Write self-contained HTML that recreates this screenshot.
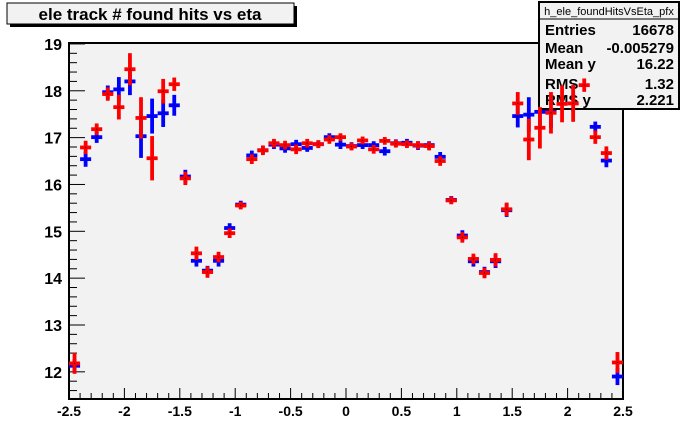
<!DOCTYPE html>
<html><head><meta charset="utf-8"><style>
body{margin:0;background:#fff}
svg{display:block;font-family:"Liberation Sans",Arial,sans-serif}
</style></head><body>
<svg id="chart" width="692" height="444" viewBox="0 0 692 444">
<rect x="0" y="0" width="692" height="444" fill="#fff"/>
<rect x="69" y="43" width="554" height="356" fill="#f2f2f2" stroke="#000" stroke-width="2"/>
<g id="axes"></g>
<g id="blue"></g>
<g>
<rect x="10" y="6" width="287" height="21" fill="#000"/>
<rect x="7" y="3" width="287" height="21" fill="#f2f2f2" stroke="#000" stroke-width="1"/>
<text x="150" y="20" text-anchor="middle" font-size="17" font-weight="bold">ele track # found hits vs eta</text>
</g>
<g>
<rect x="539" y="2" width="140" height="107" fill="#f2f2f2" stroke="#000" stroke-width="2"/>
<line x1="539" y1="19" x2="679" y2="19" stroke="#000" stroke-width="1"/>
<text x="609" y="15" text-anchor="middle" font-size="11">h_ele_foundHitsVsEta_pfx</text>
<g font-size="15" font-weight="bold">
<text x="545" y="35">Entries</text><text x="674" y="35" text-anchor="end">16678</text>
<text x="545" y="53">Mean</text><text x="674" y="53" text-anchor="end">-0.005279</text>
<text x="545" y="69">Mean y</text><text x="674" y="69" text-anchor="end">16.22</text>
<text x="545" y="89">RMS</text><text x="674" y="89" text-anchor="end">1.32</text>
<text x="545" y="105">RMS y</text><text x="674" y="105" text-anchor="end">2.221</text>
</g>
</g>
<g id="red"></g>
</svg>
<script>
const etaCenters=[-2.45,-2.35,-2.25,-2.15,-2.05,-1.95,-1.85,-1.75,-1.65,-1.55,-1.45,-1.35,-1.25,-1.15,-1.05,-0.95,-0.85,-0.75,-0.65,-0.55,-0.45,-0.35,-0.25,-0.15,-0.05,0.05,0.15,0.25,0.35,0.45,0.55,0.65,0.75,0.85,0.95,1.05,1.15,1.25,1.35,1.45,1.55,1.65,1.75,1.85,1.95,2.05,2.15,2.25,2.35,2.45];
const blueValues=[12.13,16.54,17.01,17.97,18.03,18.20,17.03,17.46,17.52,17.69,16.17,14.37,14.16,14.37,15.07,15.57,16.62,16.73,16.85,16.77,16.86,16.78,16.86,17.01,16.85,16.82,16.84,16.84,16.71,16.88,16.89,16.83,16.84,16.59,15.67,14.91,14.36,14.13,14.36,15.45,17.46,17.49,17.55,17.55,17.95,17.9,18.0,17.23,16.51,11.90];
const blueErrors=[0.1,0.12,0.08,0.1,0.22,0.25,0.42,0.33,0.25,0.18,0.1,0.08,0.06,0.08,0.06,0.04,0.06,0.04,0.05,0.05,0.05,0.04,0.04,0.04,0.05,0.04,0.04,0.04,0.05,0.04,0.04,0.05,0.04,0.06,0.04,0.07,0.07,0.07,0.1,0.1,0.2,0.33,0.3,0.3,0.3,0.3,0.3,0.07,0.1,0.14];
const redValues=[12.18,16.79,17.18,17.93,17.65,18.46,17.42,16.56,17.99,18.14,16.13,14.53,14.13,14.45,14.96,15.55,16.54,16.73,16.88,16.84,16.75,16.88,16.86,16.96,17.01,16.81,16.94,16.75,16.93,16.87,16.86,16.84,16.82,16.50,15.66,14.87,14.41,14.11,14.39,15.47,17.73,16.96,17.21,17.53,17.72,17.73,18.12,17.01,16.67,12.20];
const redErrors=[0.18,0.1,0.08,0.1,0.22,0.3,0.4,0.43,0.22,0.1,0.1,0.1,0.08,0.07,0.06,0.04,0.06,0.06,0.05,0.05,0.06,0.05,0.04,0.05,0.04,0.04,0.04,0.05,0.04,0.04,0.04,0.04,0.05,0.06,0.04,0.07,0.07,0.07,0.1,0.1,0.2,0.4,0.4,0.4,0.35,0.35,0.1,0.1,0.1,0.18];
const xTicks=[-2.5,-2,-1.5,-1,-0.5,0,0.5,1,1.5,2,2.5];
const xTickLabels=["-2.5","-2","-1.5","-1","-0.5","0","0.5","1","1.5","2","2.5"];
const yTicks=[12,13,14,15,16,17,18,19];
const yTickLabels=["12","13","14","15","16","17","18","19"];
const X0=69,X1=623,Y0=399,Y1=43,XMIN=-2.5,XMAX=2.5,YMIN=11.42,YMAX=19.02;
const sx=v=>X0+(v-XMIN)/(XMAX-XMIN)*(X1-X0);
const sy=v=>Y0-(v-YMIN)/(YMAX-YMIN)*(Y0-Y1);
const NS="http://www.w3.org/2000/svg";
function mk(parent,tag,attrs){const e=document.createElementNS(NS,tag);for(const k in attrs)e.setAttribute(k,attrs[k]);parent.appendChild(e);return e;}
const axes=document.getElementById('axes');
for(let v=XMIN;v<=XMAX+1e-9;v+=0.1){
 const major=Math.abs(v*2-Math.round(v*2))<1e-6;
 const t=mk(axes,'line',{x1:sx(v),x2:sx(v),y1:Y0,y2:Y0-(major?11:6),stroke:'#000','stroke-width':1});
 
 
}
xTicks.forEach((v,i)=>{
 const t=mk(axes,'text',{x:sx(v),y:416,'text-anchor':'middle','font-size':14,'font-weight':'bold'});
 t.textContent=xTickLabels[i];
 
 
});
for(let v=11.6;v<=19.01;v+=0.2){
 const major=Math.abs(v-Math.round(v))<1e-6;
 const t=mk(axes,'line',{x1:X0,x2:X0+(major?16:8),y1:sy(v),y2:sy(v),stroke:'#000','stroke-width':1});
 
 
}
yTicks.forEach((v,i)=>{
 const t=mk(axes,'text',{x:62,y:sy(v)+6,'text-anchor':'end','font-size':16,'font-weight':'bold'});
 t.textContent=yTickLabels[i];
 
 
});
function drawSeries(id,vals,errs,color,name){
 const g=document.getElementById(id);
 etaCenters.forEach((x,i)=>{
  const p=mk(g,'g',{});
  
  
  const cx=sx(x),cy=sy(vals[i]);
  mk(p,'line',{x1:sx(x-0.05),x2:sx(x+0.05),y1:cy,y2:cy,stroke:color,'stroke-width':3.8});
  mk(p,'line',{x1:cx,x2:cx,y1:sy(vals[i]-errs[i])+2,y2:sy(vals[i]+errs[i])-2,stroke:color,'stroke-width':3.8});
  mk(p,'rect',{x:cx-0.5,y:cy-0.5,width:1,height:1,fill:'#000'});
 });
}
drawSeries('blue',blueValues,blueErrors,'#0000ff','blue-series');
drawSeries('red',redValues,redErrors,'#ff0000','red-series');
</script>
</body></html>
